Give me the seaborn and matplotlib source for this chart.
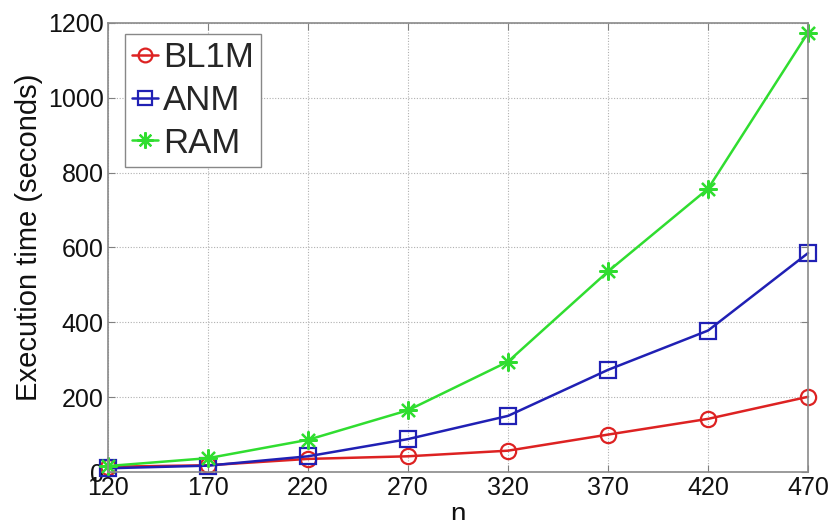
import matplotlib
matplotlib.use("Agg")
import matplotlib.pyplot as plt
import seaborn as sns
import pandas as pd

# Problem size and measured run times (seconds)
n_values = [120, 170, 220, 270, 320, 370, 420, 470]
bl1m_time = [14, 18, 35, 42, 57, 100, 142, 201]
anm_time = [10, 17, 42, 88, 150, 273, 378, 585]
ram_time = [16, 37, 86, 165, 295, 536, 757, 1174]

x_ticks = [120, 170, 220, 270, 320, 370, 420, 470]
y_ticks = [0, 200, 400, 600, 800, 1000, 1200]

sns.set_theme(style="whitegrid")
plt.rcParams["font.family"] = ["Liberation Sans", "DejaVu Sans"]

df = pd.DataFrame({"n": n_values, "BL1M": bl1m_time, "ANM": anm_time, "RAM": ram_time})

fig = plt.figure(figsize=(8.33, 5.2), dpi=100)
ax = fig.add_axes([0.1297, 0.0923, 0.8403, 0.8635])

series = [
    ("BL1M", "#dd2222", "o", 11),
    ("ANM", "#2020b4", "s", 11),
    ("RAM", "#30dd30", (8, 2, 0), 13),
]
for name, color, marker, msize in series:
    sns.lineplot(data=df, x="n", y=name, ax=ax, color=color, linewidth=1.8,
                 marker=marker, markersize=msize, markerfacecolor="none",
                 markeredgecolor=color, markeredgewidth=1.6, clip_on=False,
                 label=name)

ax.set_xlim(120, 470)
ax.set_ylim(0, 1200)
ax.set_xticks(x_ticks)
ax.set_yticks(y_ticks)
ax.tick_params(axis="both", labelsize=18, labelcolor="#111111", color="#808080",
               direction="in", length=5, width=0.8, pad=3, top=True, right=True,
               bottom=True, left=True)

ax.grid(True, color="#b0b0b0", linestyle=(0, (1, 1.5)), linewidth=0.8)
for side in ax.spines.values():
    side.set_visible(True)
    side.set_color("#8a8a8a")
    side.set_linewidth(1.2)

ax.set_xlabel("n", fontsize=20, labelpad=1.5, color="#111111")
ax.set_ylabel("Execution time (seconds)", fontsize=21, color="#111111")
ax.yaxis.set_label_coords(-0.093, 0.523)

leg = ax.legend(loc="upper left", bbox_to_anchor=(0.024, 0.975), fontsize=25,
                handlelength=0.75, handletextpad=0.15, borderpad=0.2,
                labelspacing=0.28, borderaxespad=0, frameon=True, fancybox=False,
                markerscale=0.9)
leg.get_frame().set_edgecolor("#888888")
leg.get_frame().set_linewidth(1.0)
leg.get_frame().set_facecolor("white")
leg.get_frame().set_alpha(1.0)

fig.savefig("out.png", dpi=100)
